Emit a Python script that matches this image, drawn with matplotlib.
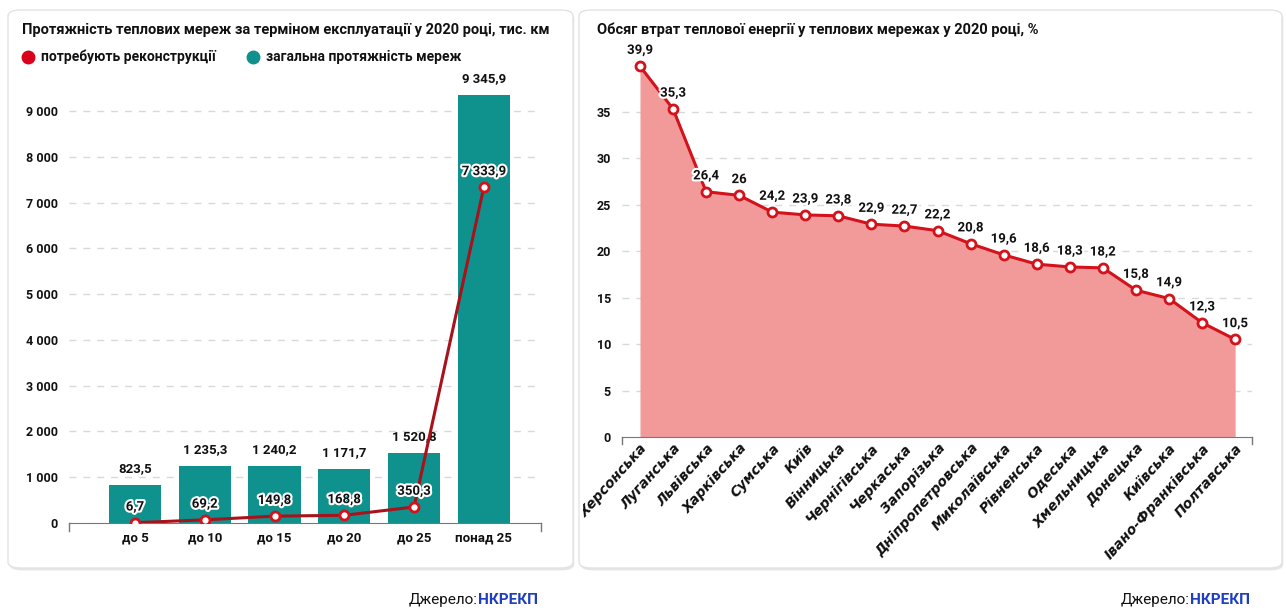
import matplotlib
matplotlib.use("Agg")
import matplotlib.pyplot as plt
import matplotlib.patheffects as pe
from matplotlib.patches import FancyBboxPatch, Rectangle

plt.rcParams['font.family'] = ['Roboto', 'DejaVu Sans']

# --- data ---
age_groups = ['до 5', 'до 10', 'до 15', 'до 20', 'до 25', 'понад 25']
total_len = [823.5, 1235.3, 1240.2, 1171.7, 1520.8, 9345.9]
need_rebuild = [6.7, 69.2, 149.8, 168.8, 350.3, 7333.9]
left_yticks = [0, 1000, 2000, 3000, 4000, 5000, 6000, 7000, 8000, 9000]

regions = ['Херсонська', 'Луганська', 'Львівська', 'Харківська', 'Сумська', 'Київ',
           'Вінницька', 'Чернігівська', 'Черкаська', 'Запорізька', 'Дніпропетровська',
           'Миколаївська', 'Рівненська', 'Одеська', 'Хмельницька', 'Донецька',
           'Київська', 'Івано-Франківська', 'Полтавська']
losses = [39.9, 35.3, 26.4, 26, 24.2, 23.9, 23.8, 22.9, 22.7, 22.2, 20.8,
          19.6, 18.6, 18.3, 18.2, 15.8, 14.9, 12.3, 10.5]
right_yticks = [0, 5, 10, 15, 20, 25, 30, 35]

TEAL = '#0f928e'
RED = '#d3121c'
DARKRED = '#a8121b'
FILL = '#f29a9a'
GRID = '#d9d9d9'
W, H = 1286, 611


def fmt(v):
    s = f"{v:,.1f}".replace(",", " ").replace(".", ",")
    if s.endswith(",0"):
        s = s[:-2]
    return s


fig = plt.figure(figsize=(W / 100, H / 100), dpi=100)

# cards
for x0, x1 in [(8, 573), (579, 1282)]:
    shadow = FancyBboxPatch((x0 / W + 0.001, 1 - 568 / H - 0.004), (x1 - x0) / W, (568 - 10) / H,
                            boxstyle="round,pad=0,rounding_size=0.01", transform=fig.transFigure,
                            facecolor='#e6e6e6', edgecolor='none', zorder=-3)
    card = FancyBboxPatch((x0 / W, 1 - 568 / H), (x1 - x0) / W, (568 - 10) / H,
                          boxstyle="round,pad=0,rounding_size=0.01", transform=fig.transFigure,
                          facecolor='white', edgecolor='#e3e3e3', linewidth=1, zorder=-2)
    fig.patches.extend([shadow, card])

# ---- left chart ----
ax1 = fig.add_axes([69 / W, 1 - 523 / H, (541 - 69) / W, (523 - 79) / H])
ax1.set_facecolor('none')
x = range(len(age_groups))
ax1.bar(x, total_len, width=0.75, color=TEAL, zorder=2)
ax1.plot(x, need_rebuild, color=DARKRED, lw=2.2, marker='o', ms=6.5,
         mfc='white', mec=RED, mew=2, zorder=4)
ax1.set_xlim(-0.946, 5.82)
ax1.set_ylim(0, 9700)
ax1.set_yticks(left_yticks)
ax1.set_yticklabels([f"{v:,}".replace(",", " ") for v in left_yticks])
ax1.set_xticks(list(x))
ax1.set_xticklabels(age_groups)
for y in left_yticks[1:]:
    ax1.axhline(y, color=GRID, lw=1, ls=(0, (5, 5)), zorder=0)
for i, v in enumerate(total_len):
    ax1.text(i, v + 230, fmt(v), ha='center', va='bottom', fontsize=9.5,
             fontweight='bold', color='#111111')
for i, v in enumerate(need_rebuild):
    ax1.text(i, v + 200, fmt(v), ha='center', va='bottom', fontsize=9.5,
             fontweight='bold', color='#111111', zorder=5,
             path_effects=[pe.withStroke(linewidth=3, foreground='white')])

# ---- right chart ----
ax2 = fig.add_axes([622 / W, 1 - 437 / H, (1252 - 622) / W, (437 - 56) / H])
ax2.set_facecolor('none')
xr = range(len(regions))
ax2.fill_between(xr, losses, 0, color=FILL, lw=0, zorder=1)
ax2.plot(xr, losses, color=RED, lw=2.2, marker='o', ms=6.5,
         mfc='white', mec=RED, mew=2, zorder=4)
ax2.set_xlim(-0.544, 18.51)
ax2.set_ylim(0, 41)
ax2.set_yticks(right_yticks)
ax2.set_xticks(list(xr))
ax2.set_xticklabels(regions, rotation=48, ha='right', rotation_mode='anchor')
for y in right_yticks[1:]:
    ax2.axhline(y, color=GRID, lw=1, ls=(0, (5, 5)), zorder=0)
for i, v in enumerate(losses):
    ax2.text(i, v + 1.0, fmt(v), ha='center', va='bottom', fontsize=9.5,
             fontweight='bold', color='#111111', zorder=5,
             path_effects=[pe.withStroke(linewidth=3, foreground='white')])

for ax in (ax1, ax2):
    for s in ('top', 'right', 'left'):
        ax.spines[s].set_visible(False)
    ax.spines['bottom'].set_color('#777777')
    ax.tick_params(axis='y', length=0, pad=8, labelsize=9)
    ax.tick_params(axis='x', length=0, pad=6, labelsize=9.5)
    for lab in ax.get_xticklabels() + ax.get_yticklabels():
        lab.set_fontweight('bold')
        lab.set_color('#111111')
    for xe in (0, 1):
        ax.plot([xe, xe], [0, -0.018], transform=ax.transAxes, color='#777777',
                lw=1, clip_on=False)
ax2.tick_params(axis='x', pad=3)
for lab in ax2.get_xticklabels():
    lab.set_family('DejaVu Sans')
    lab.set_fontstyle('oblique')
    lab.set_fontsize(10)
clip = Rectangle((583 / W, 0), 0.5, 1, transform=fig.transFigure, visible=False)
fig.add_artist(clip)
ax2.get_xticklabels()[0].set_clip_path(clip)

# titles and legend
fig.text(22 / W, 1 - 30 / H, 'Протяжність теплових мереж за терміном експлуатації у 2020 році, тис. км',
         fontsize=10.5, fontweight='bold', va='center', ha='left', color='#111111')
fig.text(597 / W, 1 - 30 / H, 'Обсяг втрат теплової енергії у теплових мережах у 2020 році, %',
         fontsize=10.5, fontweight='bold', va='center', ha='left', color='#111111')
fig.lines.append(plt.Line2D([28 / W], [1 - 57 / H], marker='o', ms=9, color='#d9001b',
                            lw=0, transform=fig.transFigure))
fig.text(41 / W, 1 - 57 / H, 'потребують реконструкції', fontsize=10, fontweight='bold',
         va='center', ha='left', color='#111111')
fig.lines.append(plt.Line2D([253 / W], [1 - 57 / H], marker='o', ms=9, color=TEAL,
                            lw=0, transform=fig.transFigure))
fig.text(266 / W, 1 - 57 / H, 'загальна протяжність мереж', fontsize=10, fontweight='bold',
         va='center', ha='left', color='#111111')

# sources
for xr_ in (538, 1250):
    fig.text(xr_ / W, 1 - 600 / H, 'НКРЕКП', fontsize=11, fontweight='bold',
             color='#1f3fbf', ha='right', va='center')
    fig.text((xr_ - 60) / W, 1 - 600 / H, 'Джерело:', fontsize=11,
             color='#111111', ha='right', va='center')

fig.savefig('out.png', dpi=100)
